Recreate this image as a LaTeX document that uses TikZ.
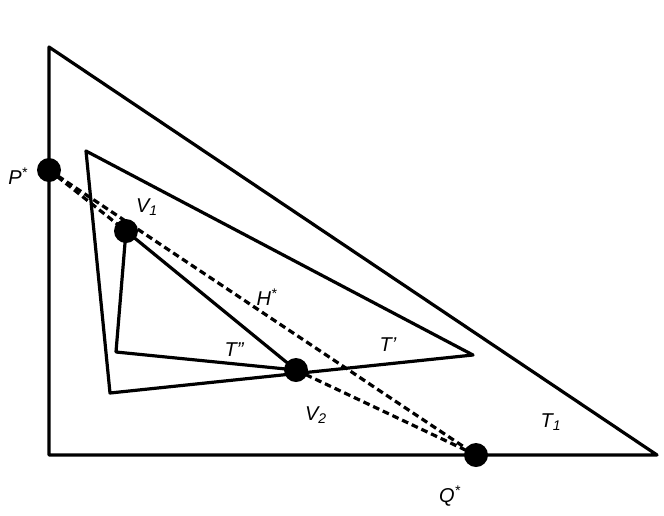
\documentclass[tikz,border=0pt]{standalone}
\usepackage{fontspec}
\setmainfont{Liberation Sans}
\begin{document}
\begin{tikzpicture}[x=0.75pt,y=-0.75pt,
  edge/.style={line width=2.4pt,line join=round},
  dashline/.style={line width=2.4pt,dash pattern=on 5pt off 3pt},
  dot/.style={circle,fill=black,inner sep=0pt,minimum size=18pt},
  lab/.style={font=\itshape\fontsize{15}{15}\selectfont}]
\useasboundingbox (0,0) rectangle (664,515);
\coordinate (A) at (49,47); \coordinate (B) at (49,455); \coordinate (C) at (657,455);
\coordinate (D) at (86,151); \coordinate (E) at (473,355); \coordinate (F) at (110,393);
\coordinate (G) at (116,352);
\node[dot] (V1) at (126,231) {};
\node[dot] (V2) at (296,370) {};
\node[dot] (P) at (49,170) {};
\node[dot] (Q) at (476,455) {};
\draw[edge] (A) -- (B) -- (C) -- cycle;
\draw[edge] (D) -- (E) -- (F) -- cycle;
\draw[edge] (V1.center) -- (G) -- (V2.center) -- cycle;
\draw[dashline] (P.center) -- (Q.center);
\draw[dashline] (P.center) -- (V1.center);
\draw[dashline] (V2.center) -- (Q.center);
\node[lab] (lP) at (18,176) {P\textsuperscript{*}};
\node[lab] (lV1) at (147,207) {V\textsubscript{1}};
\node[lab] (lH) at (267,297) {H\textsuperscript{*}};
\node[lab] (lT2) at (234,350) {T''};
\node[lab] (lT1p) at (388,345) {T'};
\node[lab] (lV2) at (316,415) {V\textsubscript{2}};
\node[lab] (lT) at (551,422) {T\textsubscript{1}};
\node[lab] (lQ) at (450,496) {Q\textsuperscript{*}};
\end{tikzpicture}
\end{document}
